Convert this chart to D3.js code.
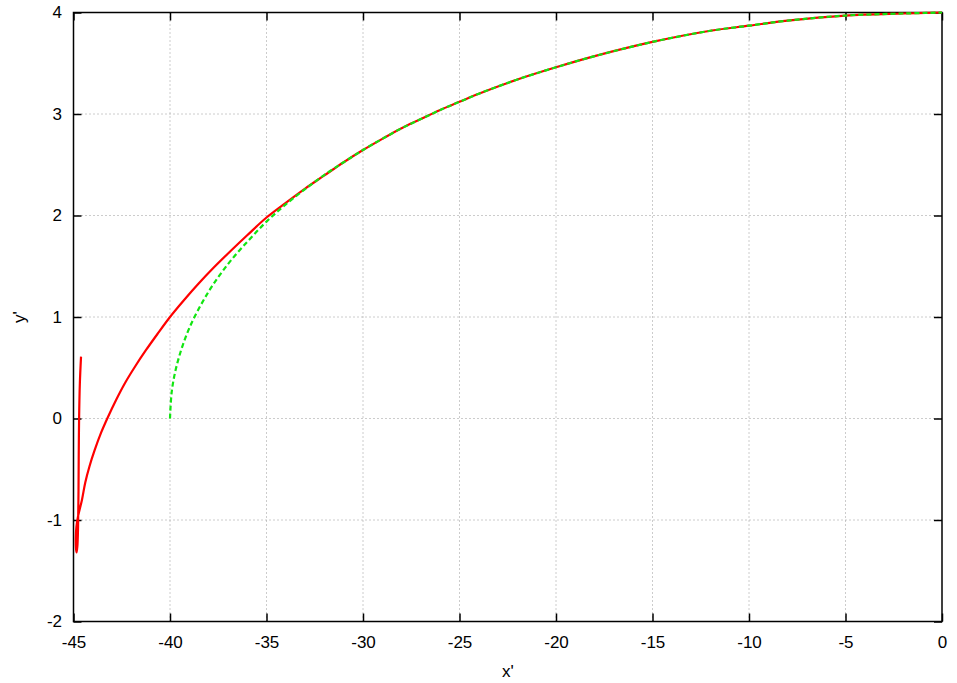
<!DOCTYPE html>
<html>
<head>
<meta charset="utf-8">
<script src="https://cdn.jsdelivr.net/npm/d3@7"></script>
<style>
  body { margin: 0; background: #fff; }
  text { font-family: "Liberation Sans", Arial, Helvetica, sans-serif; }
</style>
</head>
<body>
<script>
// red solid curve (x', y')
const redX = [-44.61, -44.67, -44.71, -44.73, -44.74, -44.755, -44.77, -44.80, -44.84, -44.87,
  -44.88, -44.85, -44.77, -44.56, -44.39, -44.17, -43.90, -43.57, -43.25, -42.80,
  -42.33, -41.80, -41.24, -40.66, -40.00, -39.28, -38.54, -37.72, -36.86, -36.00,
  -35.00, -34.00, -33.00, -32.00, -31, -30, -29, -28, -27, -26, -25, -24, -22, -20,
  -18, -15, -12, -10, -8, -5, -2, 0];
const redY = [0.61, 0.35, 0.00, -0.40, -0.70, -0.95, -1.12, -1.26, -1.32, -1.28,
  -1.17, -1.07, -0.97, -0.80, -0.63, -0.47, -0.31, -0.14, 0.00, 0.18,
  0.35, 0.515, 0.675, 0.83, 1.00, 1.165, 1.325, 1.49, 1.65, 1.805,
  1.98, 2.125, 2.265, 2.395, 2.525, 2.645, 2.755, 2.86, 2.95, 3.04, 3.12, 3.20, 3.34, 3.46,
  3.57, 3.71, 3.82, 3.87, 3.92, 3.97, 3.99, 4.00];

// green dashed curve
const greenX = [-40, -39.9, -39.6, -39, -38, -37, -36, -35, -34, -33, -32, -31, -30, -29, -28,
  -27, -26, -25, -24, -22, -20, -18, -15, -12, -10, -8, -5, -2, 0];
const greenY = [0, 0.28, 0.56, 0.89, 1.25, 1.52, 1.74, 1.94, 2.11, 2.26, 2.40, 2.525, 2.645, 2.755, 2.86,
  2.95, 3.04, 3.12, 3.20, 3.34, 3.46, 3.57, 3.71, 3.82, 3.87, 3.92, 3.97, 3.99, 4.00];

const xTicks = [-45, -40, -35, -30, -25, -20, -15, -10, -5, 0];
const yTicks = [-2, -1, 0, 1, 2, 3, 4];

const W = 957;
const H = 683;
const margin = { top: 12.5, right: 15, bottom: 61.5, left: 73.5 };
const w = W - margin.left - margin.right;
const h = H - margin.top - margin.bottom;

const svg = d3.select("body").append("svg").attr("width", W).attr("height", H);
const g = svg.append("g").attr("transform", `translate(${margin.left},${margin.top})`);

const x = d3.scaleLinear().domain([-45, 0]).range([0, w]);
const y = d3.scaleLinear().domain([-2, 4]).range([h, 0]);

// dotted grid
g.append("g")
  .selectAll("line")
  .data(xTicks.slice(1, -1))
  .enter()
  .append("line")
  .attr("x1", (d) => x(d))
  .attr("x2", (d) => x(d))
  .attr("y1", 0)
  .attr("y2", h)
  .attr("stroke", "#999")
  .attr("stroke-width", 1)
  .attr("stroke-dasharray", "1,3");

g.append("g")
  .selectAll("line")
  .data(yTicks.slice(1, -1))
  .enter()
  .append("line")
  .attr("x1", 0)
  .attr("x2", w)
  .attr("y1", (d) => y(d))
  .attr("y2", (d) => y(d))
  .attr("stroke", "#999")
  .attr("stroke-width", 1)
  .attr("stroke-dasharray", "1,3");

// axes, ticks pointing inward and mirrored
const fmt = (d) => String(d);
const styleAxis = (sel) => {
  sel.select(".domain").remove();
  sel.selectAll(".tick line").attr("stroke", "#000").attr("stroke-width", 1.5);
  sel.selectAll(".tick text").attr("fill", "#000").style("font-size", "17px");
};

g.append("g")
  .attr("transform", `translate(0,${h})`)
  .call(d3.axisBottom(x).tickValues(xTicks).tickFormat(fmt).tickSize(-8).tickPadding(14))
  .call(styleAxis);
g.append("g")
  .call(d3.axisTop(x).tickValues(xTicks).tickFormat("").tickSize(-8))
  .call(styleAxis);
g.append("g")
  .call(d3.axisLeft(y).tickValues(yTicks).tickFormat(fmt).tickSize(-8).tickPadding(11.5))
  .call(styleAxis);
g.append("g")
  .attr("transform", `translate(${w},0)`)
  .call(d3.axisRight(y).tickValues(yTicks).tickFormat("").tickSize(-8))
  .call(styleAxis);

g.append("rect")
  .attr("width", w)
  .attr("height", h)
  .attr("fill", "none")
  .attr("stroke", "#000")
  .attr("stroke-width", 1.5);

// curves
const line = d3.line()
  .x((d) => x(d[0]))
  .y((d) => y(d[1]))
  .curve(d3.curveCatmullRom.alpha(0.5));

g.append("path")
  .datum(d3.zip(redX, redY))
  .attr("d", line)
  .attr("fill", "none")
  .attr("stroke", "#ff0000")
  .attr("stroke-width", 2.2);

g.append("path")
  .datum(d3.zip(greenX, greenY))
  .attr("d", line)
  .attr("fill", "none")
  .attr("stroke", "#11e611")
  .attr("stroke-width", 2.2)
  .attr("stroke-dasharray", "5,3");

// axis titles
svg.append("text")
  .attr("x", margin.left + w / 2)
  .attr("y", 677)
  .attr("text-anchor", "middle")
  .style("font-size", "17px")
  .text("x'");

svg.append("text")
  .attr("transform", `translate(25,${margin.top + h / 2}) rotate(-90)`)
  .attr("text-anchor", "middle")
  .style("font-size", "17px")
  .text("y'");
</script>
</body>
</html>
